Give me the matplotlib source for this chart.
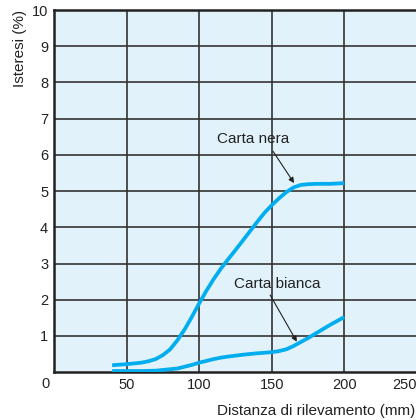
import matplotlib
matplotlib.use('Agg')
import matplotlib.pyplot as plt

# Dati
x_nera = [40, 50, 60, 65, 70, 75, 80, 85, 90, 95, 100, 105, 110, 115, 120, 125, 130,
          135, 140, 145, 150, 155, 160, 165, 170, 175, 180, 190, 200]
y_nera = [0.19, 0.22, 0.26, 0.3, 0.36, 0.47, 0.63, 0.88, 1.18, 1.53, 1.9, 2.25, 2.57, 2.86,
          3.12, 3.37, 3.63, 3.89, 4.15, 4.4, 4.61, 4.8, 4.97, 5.1, 5.17, 5.19, 5.2, 5.2, 5.22]

x_bianca = [40, 50, 60, 70, 80, 85, 90, 95, 100, 105, 110, 115, 120, 130, 140, 150,
            155, 160, 165, 170, 175, 180, 185, 190, 195, 200]
y_bianca = [0.03, 0.03, 0.03, 0.04, 0.08, 0.1, 0.15, 0.2, 0.26, 0.31, 0.36, 0.4, 0.43,
            0.48, 0.52, 0.55, 0.58, 0.63, 0.72, 0.83, 0.94, 1.06, 1.18, 1.3, 1.41, 1.52]

x_ticks = [50, 100, 150, 200, 250]
y_ticks = [1, 2, 3, 4, 5, 6, 7, 8, 9, 10]

plt.rcParams['font.family'] = ['Liberation Sans', 'DejaVu Sans']
plt.rcParams['font.size'] = 11
testo = '#222222'

fig = plt.figure(figsize=(4.16, 4.2), dpi=100)
ax = fig.add_axes([0.13, 0.114, 0.872, 0.862])
ax.set_facecolor('#e1f2fa')

blu = '#00aeef'
ax.plot(x_nera, y_nera, color=blu, lw=2.7, solid_capstyle='butt', zorder=3)
ax.plot(x_bianca, y_bianca, color=blu, lw=2.7, solid_capstyle='butt', zorder=3)

ax.set_xlim(0, 250)
ax.set_ylim(0, 10)
ax.set_xticks(x_ticks)
ax.set_yticks(y_ticks)
ax.grid(True, color='#333333', lw=1.2)
ax.tick_params(length=0, pad=4.3, labelcolor=testo, labelsize=10.5)
ax.get_xticklabels()[-1].set_ha('right')

for side in ['left', 'bottom', 'top']:
    ax.spines[side].set_linewidth(1.8)
    ax.spines[side].set_color('#222222')
ax.spines['right'].set_visible(False)

# "0" all'angolo
ax.text(-0.025, -0.033, '0', transform=ax.transAxes, ha='center', va='center',
        fontsize=10.5, color=testo)

ax.set_ylabel('Isteresi (%)', loc='top', color=testo)
ax.yaxis.set_label_coords(-0.074, 1.0)
ax.set_xlabel('Distanza di rilevamento (mm)', loc='right', color=testo)
ax.xaxis.set_label_coords(0.995, -0.088)

# Etichette con frecce
ax.text(137, 6.45, 'Carta nera', ha='center', va='center', color=testo)
ax.annotate('', xy=(165.4, 5.22), xytext=(150.9, 6.1),
            arrowprops=dict(arrowstyle='-|>', color=testo, lw=0.8,
                            shrinkA=0, shrinkB=0, mutation_scale=8))
ax.text(153.5, 2.43, 'Carta bianca', ha='center', va='center', color=testo)
ax.annotate('', xy=(167.3, 0.84), xytext=(148.9, 2.13),
            arrowprops=dict(arrowstyle='-|>', color=testo, lw=0.8,
                            shrinkA=0, shrinkB=0, mutation_scale=8))

fig.savefig('out.png', dpi=100)
